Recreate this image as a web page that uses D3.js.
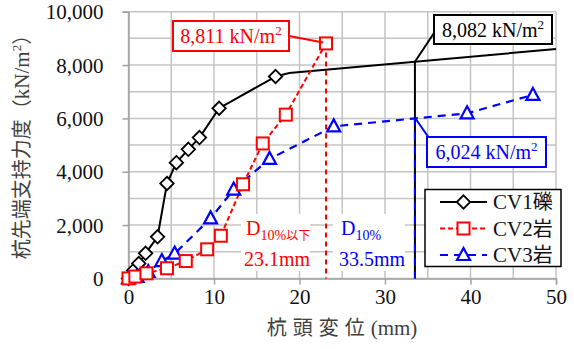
<!DOCTYPE html>
<html><head><meta charset="utf-8">
<script src="https://cdn.jsdelivr.net/npm/d3@7"></script>
<style>
html,body{margin:0;padding:0;background:#fff;}
svg{display:block;}
</style></head>
<body>
<svg id="c" width="574" height="349"></svg>
<script>
// ---- data ----
const xTicks = [0,10,20,30,40,50];
const yTicks = [0,2000,4000,6000,8000,10000];
const xGrid = [0,5,10,15,20,25,30,35,40,45,50];
const yGrid = [0,1000,2000,3000,4000,5000,6000,7000,8000,9000,10000];
const seriesNames = ["CV1礫","CV2岩","CV3岩"];
const cv1 = [[0,0],[0.6,300],[1.2,560],[2.0,940],[3.4,1560],[4.5,3560],[5.6,4340],[7.0,4840],[8.3,5280],[10.6,6380],[17.2,7570]];
const cv1Trend = [[17.2,7570],[18.8,7700],[50,8600]];
const cv2 = [[0,0],[0.8,70],[2.1,190],[4.5,380],[6.7,650],[9.2,1090],[10.8,1600],[13.4,3530],[15.7,5060],[18.4,6140],[23.1,8811]];
const cv3 = [[0,0],[1.0,60],[2.3,240],[3.9,650],[5.4,930],[9.6,2250],[12.3,3330],[16.5,4480],[24.0,5700],[39.6,6190],[47.3,6880]];
const d10Red = 23.1, d10RedVal = 8811;
const d10Blue = 33.5, d10BlueCV1 = 8124, d10BlueCV3 = 6024;
const labelRed = "8,811 kN/m", labelBlack = "8,082 kN/m", labelBlue = "6,024 kN/m";

const svg = d3.select("#c");
const serif = "'Liberation Serif','Times New Roman',serif";
const cjk = "'Noto Sans CJK JP','Noto Sans',sans-serif";
const x = d3.scaleLinear().domain([0,50]).range([128.5,556]);
const y = d3.scaleLinear().domain([0,10000]).range([278.4,11.7]);

// grid
const g = svg.append("g");
g.selectAll(".vg").data(xGrid).join("line")
  .attr("x1",d=>x(d)).attr("x2",d=>x(d)).attr("y1",y(0)).attr("y2",y(10000))
  .attr("stroke","#c4c4c4").attr("stroke-width",1.5);
g.selectAll(".hg").data(yGrid).join("line")
  .attr("x1",x(0)).attr("x2",x(50)).attr("y1",d=>y(d)).attr("y2",d=>y(d))
  .attr("stroke","#c4c4c4").attr("stroke-width",1.5);

// axes
const xAxis = d3.axisBottom(x).tickValues(xTicks).tickSize(6).tickPadding(4).tickFormat(d3.format("d"));
const yAxis = d3.axisLeft(y).tickValues(yTicks).tickSize(6).tickPadding(19).tickFormat(d3.format(","));
const gx = svg.append("g").attr("transform",`translate(0,${y(0)})`).call(xAxis);
const gy = svg.append("g").attr("transform",`translate(${x(0)},0)`).call(yAxis);
[gx,gy].forEach(a=>{
  a.select(".domain").attr("stroke","#a0a0a0").attr("stroke-width",1.5);
  a.selectAll(".tick line").attr("stroke","#a0a0a0").attr("stroke-width",1.5);
  a.selectAll("text").attr("font-family",serif).attr("font-size",21).attr("fill","#111");
});
gy.selectAll("text").attr("dy","0.34em");
gx.selectAll("text").attr("dy","0.72em");

// annotation white backgrounds
svg.append("rect").attr("x",241).attr("y",214).attr("width",69).attr("height",57).attr("fill","#fff");
svg.append("rect").attr("x",333).attr("y",214).attr("width",72).attr("height",57).attr("fill","#fff");

// vertical D10 lines
svg.append("line").attr("x1",x(d10Red)).attr("x2",x(d10Red)).attr("y1",y(d10RedVal)).attr("y2",y(0))
  .attr("stroke","#ff0000").attr("stroke-width",2).attr("stroke-dasharray","5,4");
svg.append("line").attr("x1",x(d10Blue)).attr("x2",x(d10Blue)).attr("y1",y(d10BlueCV1)).attr("y2",y(0))
  .attr("stroke","#000").attr("stroke-width",2);
svg.append("line").attr("x1",x(d10Blue)).attr("x2",x(d10Blue)).attr("y1",y(d10BlueCV3)).attr("y2",y(0))
  .attr("stroke","#0000ff").attr("stroke-width",2).attr("stroke-dasharray","8,6");

// lines
const line = d3.line().x(d=>x(d[0])).y(d=>y(d[1]));
svg.append("path").datum(cv1Trend).attr("d",line).attr("fill","none").attr("stroke","#000").attr("stroke-width",2);
svg.append("path").datum(cv1).attr("d",line).attr("fill","none").attr("stroke","#000").attr("stroke-width",2);
svg.append("path").datum(cv3).attr("d",line).attr("fill","none").attr("stroke","#0000ff").attr("stroke-width",2.2).attr("stroke-dasharray","8,6");
svg.append("path").datum(cv2).attr("d",line).attr("fill","none").attr("stroke","#ff0000").attr("stroke-width",2).attr("stroke-dasharray","5,3");

// markers
function drawMarkers(data, kind){
  const gg = svg.append("g");
  data.forEach(d=>{
    const cx = x(d[0]), cy = y(d[1]);
    if(kind==="d"){
      gg.append("path").attr("d",d3.symbol().type(d3.symbolDiamond2 || d3.symbolDiamond).size(115)())
        .attr("transform",`translate(${cx},${cy})`)
        .attr("fill","#fff").attr("stroke","#000").attr("stroke-width",1.8);
    } else if(kind==="s"){
      gg.append("rect").attr("x",cx-6).attr("y",cy-6).attr("width",12).attr("height",12)
        .attr("fill","#fff").attr("stroke","#ff0000").attr("stroke-width",2);
    } else {
      gg.append("path").attr("d",`M${cx},${cy-7}L${cx+6.5},${cy+5}L${cx-6.5},${cy+5}Z`)
        .attr("fill","#fff").attr("stroke","#0000ff").attr("stroke-width",2.2);
    }
  });
}
drawMarkers(cv1,"d");
drawMarkers(cv3,"t");
drawMarkers(cv2,"s");

// callout boxes
function callout(bx,by,bw,bh,color,txt,lx1,ly1,lx2,ly2){
  svg.append("line").attr("x1",lx1).attr("y1",ly1).attr("x2",lx2).attr("y2",ly2).attr("stroke",color).attr("stroke-width",2);
  svg.append("rect").attr("x",bx).attr("y",by).attr("width",bw).attr("height",bh)
    .attr("fill","#fff").attr("stroke",color).attr("stroke-width",2);
  const t = svg.append("text").attr("x",bx+bw/2).attr("y",by+bh/2+7).attr("text-anchor","middle")
    .attr("font-family",serif).attr("font-size",20).attr("fill",color);
  t.append("tspan").text(txt);
  t.append("tspan").attr("dy",-8).attr("font-size",13).text("2");
}
callout(173,21,116,30,"#ff0000",labelRed,289,36,x(d10Red)-3,y(d10RedVal)-1);
callout(434,15,118,29,"#000",labelBlack,436,30,x(d10Blue),y(d10BlueCV1));
callout(427,137,119,30,"#0000ff",labelBlue,x(d10Blue),y(d10BlueCV3),429,138);

// D10 text annotations
function dtext(xx,color,sub,val){
  const t = svg.append("text").attr("x",xx).attr("y",235).attr("font-family",serif).attr("font-size",20).attr("fill",color);
  t.append("tspan").text("D");
  const s = t.append("tspan").attr("dy",5).attr("font-size",14);
  s.append("tspan").attr("font-family",serif).text("10%");
  if(sub) s.append("tspan").attr("font-family",cjk).attr("font-size",12).text(sub);
  svg.append("text").attr("x",xx-2).attr("y",266).attr("font-family",serif).attr("font-size",20).attr("fill",color).text(val);
}
dtext(246,"#ff0000","以下","23.1mm");
dtext(341,"#0000ff",null,"33.5mm");

// legend
const lg = svg.append("g");
lg.append("rect").attr("x",425).attr("y",189.5).attr("width",136).attr("height",77)
  .attr("fill","#fff").attr("stroke","#000").attr("stroke-width",1.5);
const legStyles = [
  {c:"#000",dash:null,k:"d"},
  {c:"#ff0000",dash:"5,3",k:"s"},
  {c:"#0000ff",dash:"8,6",k:"t"}
];
seriesNames.forEach((n,i)=>{
  const yy = 202 + i*26.5;
  const st = legStyles[i];
  lg.append("line").attr("x1",440).attr("x2",487).attr("y1",yy).attr("y2",yy)
    .attr("stroke",st.c).attr("stroke-width",2).attr("stroke-dasharray",st.dash);
  const cx = 463.5;
  if(st.k==="d") lg.append("path").attr("d",d3.symbol().type(d3.symbolDiamond2||d3.symbolDiamond).size(115)())
      .attr("transform",`translate(${cx},${yy})`).attr("fill","#fff").attr("stroke","#000").attr("stroke-width",1.8);
  else if(st.k==="s") lg.append("rect").attr("x",cx-6).attr("y",yy-6).attr("width",12).attr("height",12)
      .attr("fill","#fff").attr("stroke",st.c).attr("stroke-width",2);
  else lg.append("path").attr("d",`M${cx},${yy-7}L${cx+6.5},${yy+5}L${cx-6.5},${yy+5}Z`)
      .attr("fill","#fff").attr("stroke",st.c).attr("stroke-width",2.2);
  const t = lg.append("text").attr("x",493).attr("y",yy+7).attr("font-size",21).attr("fill","#111");
  t.append("tspan").attr("font-family",serif).text(n.slice(0,3));
  t.append("tspan").attr("font-family",cjk).attr("font-size",20).text(n.slice(3));
});

// axis titles
const xt = svg.append("text").attr("x",342).attr("y",335).attr("text-anchor","middle").attr("fill","#404040").attr("font-size",20);
xt.append("tspan").attr("font-family",cjk).attr("letter-spacing",6).text("杭頭変位");
xt.append("tspan").attr("font-family",serif).attr("font-size",21).text("(mm)");

const yt = svg.append("text").attr("transform","translate(29,142) rotate(-90)").attr("text-anchor","middle").attr("fill","#404040").attr("font-size",20);
yt.append("tspan").attr("font-family",cjk).text("杭先端支持力度（");
yt.append("tspan").attr("font-family",serif).attr("font-size",21).text("kN/m");
yt.append("tspan").attr("font-family",serif).attr("font-size",13).attr("dy",-8).text("2");
yt.append("tspan").attr("font-family",cjk).attr("dy",8).text("）");
</script>
</body></html>
